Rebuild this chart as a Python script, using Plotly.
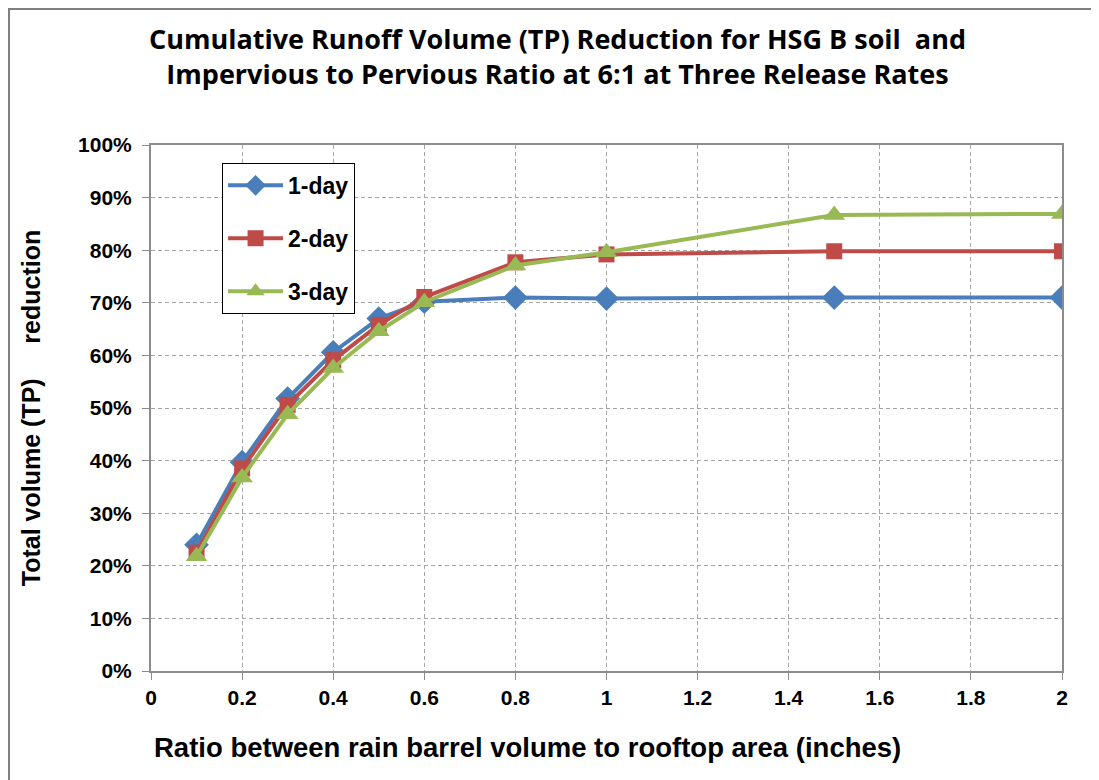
import plotly.graph_objects as go

x_vals = [0.1, 0.2, 0.3, 0.4, 0.5, 0.6, 0.8, 1.0, 1.5, 2.0]
one_day = [0.240, 0.397, 0.518, 0.606, 0.670, 0.702, 0.710, 0.708, 0.710, 0.710]
two_day = [0.225, 0.385, 0.506, 0.591, 0.658, 0.711, 0.777, 0.792, 0.798, 0.798]
three_day = [0.218, 0.368, 0.488, 0.576, 0.646, 0.701, 0.771, 0.796, 0.867, 0.869]
series_names = ["1-day", "2-day", "3-day"]

x_ticks = [0, 0.2, 0.4, 0.6, 0.8, 1, 1.2, 1.4, 1.6, 1.8, 2]
x_labels = ["0", "0.2", "0.4", "0.6", "0.8", "1", "1.2", "1.4", "1.6", "1.8", "2"]
y_ticks = [i / 10 for i in range(11)]
y_labels = [f"{i * 10}%" for i in range(11)]

colors = ["#4a7ebb", "#be4b48", "#98b954"]
symbols = ["diamond", "square", "triangle-up"]
sizes = [19, 16, 19]

fig = go.Figure()
for name, ys, c, s, sz in zip(series_names, [one_day, two_day, three_day], colors, symbols, sizes):
    fig.add_trace(go.Scatter(
        x=x_vals, y=ys, name=f"<b>{name}</b>", mode="lines+markers",
        legendgroup=name,
        line=dict(color=c, width=4),
        marker=dict(symbol=s, size=sz, color=c),
    ))

arial = "Arial, Liberation Sans, sans-serif"
grid = dict(showgrid=True, gridcolor="#a6a6a6", griddash="4px,3px", gridwidth=1,
            showline=True, linecolor="#8c8c8c", linewidth=2, mirror=True,
            ticks="outside", ticklen=7, tickcolor="#8c8c8c", zeroline=False)

fig.update_layout(
    width=1099, height=780,
    # page body adds 8px offset, so margins are shifted by 8
    margin=dict(l=143, r=45, t=137, b=117),
    paper_bgcolor="white", plot_bgcolor="white",
    title=dict(
        text="<b>Cumulative Runoff Volume (TP) Reduction for HSG B soil  and<br>Impervious to Pervious Ratio at 6:1 at Three Release Rates</b>",
        x=0.5, xanchor="center", y=0.948, yanchor="middle",
        font=dict(family="Open Sans", size=27, color="black"),
    ),
    xaxis=dict(
        range=[0, 2], tickvals=x_ticks, ticktext=[f"<b>{t}</b>" for t in x_labels],
        tickfont=dict(family=arial, size=21, color="black"),
        **grid,
    ),
    yaxis=dict(
        range=[0, 1], tickvals=y_ticks, ticktext=[f"<b>{t}</b>" for t in y_labels],
        tickfont=dict(family=arial, size=21, color="black"),
        ticklabelstandoff=6,
        title=dict(text="<b>Total volume (TP)     reduction</b>",
                   font=dict(family=arial, size=25, color="black"), standoff=30),
        **grid,
    ),
    legend=dict(
        x=0.078, y=0.966, xanchor="left", yanchor="top",
        bordercolor="black", borderwidth=1, bgcolor="white",
        font=dict(family=arial, size=23, color="black"),
        itemwidth=55, tracegroupgap=20,
    ),
    showlegend=True,
)

# x axis title sits left of the plot centre in the original
fig.add_annotation(text="<b>Ratio between rain barrel volume to rooftop area (inches)</b>",
                   xref="paper", yref="paper", x=(527 - 151) / 911, y=(671 - 747) / 526,
                   xanchor="center", yanchor="middle", showarrow=False,
                   font=dict(family=arial, size=27.5, color="black"))

# outer chart border
fig.add_shape(type="rect", xref="paper", yref="paper",
              x0=(9 - 151) / 911, x1=(1110 - 151) / 911,
              y0=(671 - 790) / 526, y1=(671 - 9) / 526,
              line=dict(color="#7f7f7f", width=2), fillcolor="rgba(0,0,0,0)")

fig.write_html("out.html")
